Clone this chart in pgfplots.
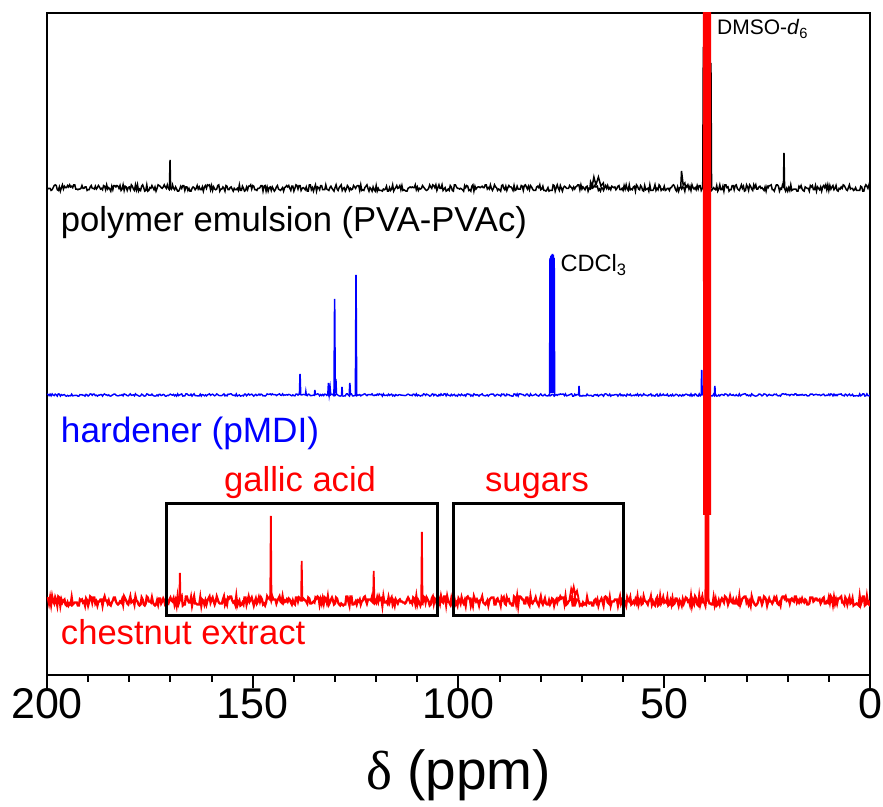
\documentclass[border=0pt]{standalone}
\usepackage{fontspec}
\setmainfont{Liberation Sans}
\newfontfamily\greekserif{Liberation Serif}
\usepackage{pgfplots}
\usepackage{pgfplotstable}
\pgfplotsset{compat=1.18}

% baseline noise read as digits 0-9: x (ppm), b = black trace, r = red trace
\pgfplotstableread{
x b r
200 1 8
199.75 4 7
199.5 4 2
199.25 4 8
199 1 1
198.75 2 9
198.5 5 4
198.25 8 2
198 9 8
197.75 8 5
197.5 2 0
197.25 1 9
197 6 8
196.75 0 0
196.5 5 6
196.25 9 3
196 3 5
195.75 7 6
195.5 5 1
195.25 5 0
195 8 3
194.75 6 0
194.5 9 2
194.25 6 1
194 7 8
193.75 5 1
193.5 9 2
193.25 9 3
193 3 3
192.75 3 3
192.5 2 0
192.25 3 0
192 3 6
191.75 4 5
191.5 8 6
191.25 4 3
191 4 4
190.75 6 0
190.5 6 7
190.25 1 5
190 2 0
189.75 2 4
189.5 6 9
189.25 8 8
189 4 3
188.75 4 8
188.5 3 8
188.25 7 2
188 3 4
187.75 5 0
187.5 8 4
187.25 6 4
187 3 6
186.75 4 6
186.5 2 0
186.25 8 6
186 7 9
185.75 2 5
185.5 9 5
185.25 3 2
185 5 5
184.75 3 1
184.5 0 0
184.25 7 3
184 2 5
183.75 8 8
183.5 8 8
183.25 6 4
183 8 2
182.75 7 1
182.5 4 2
182.25 8 4
182 1 3
181.75 3 6
181.5 9 1
181.25 1 9
181 7 7
180.75 6 5
180.5 1 2
180.25 5 1
180 6 5
179.75 2 9
179.5 9 3
179.25 7 4
179 3 5
178.75 1 1
178.5 9 9
178.25 2 5
178 9 4
177.75 0 1
177.5 3 0
177.25 1 1
177 7 8
176.75 9 6
176.5 5 1
176.25 0 0
176 1 2
175.75 9 9
175.5 0 8
175.25 1 4
175 5 4
174.75 4 3
174.5 8 8
174.25 5 3
174 2 1
173.75 6 0
173.5 0 1
173.25 4 5
173 9 1
172.75 8 7
172.5 7 7
172.25 5 2
172 4 4
171.75 6 7
171.5 9 5
171.25 6 0
171 4 0
170.75 9 3
170.5 4 2
170.25 2 6
170 5 8
169.75 3 5
169.5 9 4
169.25 4 7
169 2 1
168.75 6 5
168.5 3 0
168.25 0 9
168 0 2
167.75 3 5
167.5 7 7
167.25 4 9
167 8 0
166.75 8 1
166.5 1 1
166.25 6 9
166 6 9
165.75 1 5
165.5 4 3
165.25 0 3
165 0 8
164.75 4 0
164.5 6 5
164.25 5 9
164 2 2
163.75 4 2
163.5 8 1
163.25 3 1
163 6 1
162.75 2 8
162.5 2 0
162.25 6 6
162 0 5
161.75 6 1
161.5 8 5
161.25 4 1
161 9 5
160.75 8 7
160.5 9 9
160.25 2 3
160 8 6
159.75 1 8
159.5 6 4
159.25 3 1
159 2 4
158.75 3 9
158.5 8 6
158.25 9 3
158 0 2
157.75 3 2
157.5 3 2
157.25 6 6
157 4 9
156.75 0 1
156.5 8 4
156.25 7 1
156 2 8
155.75 2 7
155.5 5 9
155.25 6 9
155 3 5
154.75 0 3
154.5 4 4
154.25 2 1
154 2 9
153.75 4 0
153.5 1 3
153.25 9 5
153 1 0
152.75 1 1
152.5 7 3
152.25 4 1
152 0 8
151.75 1 8
151.5 6 1
151.25 2 5
151 7 9
150.75 7 4
150.5 9 6
150.25 3 8
150 8 4
149.75 7 0
149.5 2 4
149.25 2 7
149 1 2
148.75 4 4
148.5 4 8
148.25 5 4
148 8 8
147.75 8 6
147.5 0 1
147.25 7 2
147 8 0
146.75 0 3
146.5 6 9
146.25 0 7
146 5 7
145.75 6 9
145.5 1 5
145.25 6 9
145 3 6
144.75 0 6
144.5 2 6
144.25 6 2
144 8 5
143.75 3 7
143.5 2 9
143.25 1 4
143 3 3
142.75 5 9
142.5 0 3
142.25 5 5
142 6 4
141.75 8 6
141.5 6 4
141.25 8 7
141 4 6
140.75 1 3
140.5 7 1
140.25 7 5
140 0 2
139.75 4 1
139.5 9 8
139.25 8 8
139 3 4
138.75 8 8
138.5 8 7
138.25 1 5
138 4 5
137.75 5 7
137.5 4 6
137.25 2 5
137 6 4
136.75 0 2
136.5 0 8
136.25 9 7
136 9 2
135.75 2 2
135.5 5 3
135.25 0 4
135 5 3
134.75 9 8
134.5 0 7
134.25 6 9
134 5 8
133.75 2 1
133.5 8 6
133.25 8 2
133 2 7
132.75 2 2
132.5 2 8
132.25 9 7
132 3 3
131.75 2 9
131.5 1 1
131.25 5 3
131 7 6
130.75 4 8
130.5 2 5
130.25 0 1
130 5 2
129.75 9 8
129.5 3 7
129.25 1 3
129 5 1
128.75 7 0
128.5 9 2
128.25 1 1
128 4 0
127.75 5 1
127.5 0 1
127.25 3 9
127 8 9
126.75 6 4
126.5 1 0
126.25 4 9
126 2 9
125.75 3 1
125.5 8 1
125.25 6 2
125 4 4
124.75 7 1
124.5 8 5
124.25 8 4
124 1 6
123.75 9 1
123.5 1 4
123.25 2 5
123 1 8
122.75 5 9
122.5 7 5
122.25 9 2
122 4 6
121.75 0 6
121.5 5 6
121.25 3 5
121 0 9
120.75 6 3
120.5 2 2
120.25 0 5
120 8 3
119.75 0 8
119.5 4 4
119.25 1 9
119 1 6
118.75 1 7
118.5 0 0
118.25 3 9
118 2 3
117.75 3 3
117.5 7 4
117.25 0 2
117 0 8
116.75 5 3
116.5 1 6
116.25 3 8
116 9 1
115.75 0 4
115.5 3 0
115.25 5 6
115 8 4
114.75 4 2
114.5 5 5
114.25 8 6
114 2 4
113.75 8 4
113.5 1 3
113.25 2 3
113 1 2
112.75 0 3
112.5 0 6
112.25 4 8
112 5 6
111.75 6 3
111.5 5 4
111.25 6 2
111 5 8
110.75 5 7
110.5 9 2
110.25 2 9
110 6 1
109.75 1 5
109.5 4 3
109.25 3 0
109 4 3
108.75 8 2
108.5 6 9
108.25 4 8
108 2 3
107.75 1 8
107.5 2 6
107.25 4 4
107 9 0
106.75 6 1
106.5 4 7
106.25 9 9
106 8 2
105.75 5 7
105.5 9 6
105.25 1 1
105 5 0
104.75 9 6
104.5 4 2
104.25 4 9
104 9 4
103.75 1 3
103.5 3 9
103.25 5 9
103 0 1
102.75 1 9
102.5 3 4
102.25 1 3
102 8 1
101.75 6 7
101.5 1 2
101.25 0 5
101 9 7
100.75 9 1
100.5 6 3
100.25 4 0
100 4 7
99.75 3 5
99.5 4 2
99.25 3 8
99 2 4
98.75 0 2
98.5 8 5
98.25 5 0
98 8 8
97.75 7 9
97.5 1 7
97.25 2 7
97 0 0
96.75 7 4
96.5 9 0
96.25 0 9
96 7 6
95.75 3 4
95.5 5 6
95.25 6 4
95 6 0
94.75 5 5
94.5 6 6
94.25 7 9
94 5 3
93.75 5 2
93.5 9 1
93.25 9 3
93 3 5
92.75 5 0
92.5 3 5
92.25 9 7
92 4 8
91.75 1 8
91.5 4 8
91.25 9 1
91 6 1
90.75 5 6
90.5 1 7
90.25 3 4
90 2 4
89.75 0 0
89.5 8 8
89.25 9 6
89 4 8
88.75 2 2
88.5 7 1
88.25 1 8
88 5 5
87.75 8 6
87.5 6 2
87.25 6 2
87 4 0
86.75 1 0
86.5 8 9
86.25 1 8
86 2 2
85.75 7 9
85.5 3 0
85.25 3 9
85 3 9
84.75 8 8
84.5 7 6
84.25 1 6
84 8 2
83.75 9 2
83.5 6 8
83.25 3 8
83 7 2
82.75 2 0
82.5 8 9
82.25 6 3
82 3 2
81.75 1 4
81.5 1 5
81.25 1 8
81 6 4
80.75 7 2
80.5 5 0
80.25 9 5
80 2 9
79.75 3 3
79.5 7 1
79.25 1 4
79 1 7
78.75 0 2
78.5 2 1
78.25 5 1
78 0 5
77.75 1 1
77.5 1 3
77.25 1 7
77 9 6
76.75 8 0
76.5 0 4
76.25 5 6
76 9 3
75.75 4 7
75.5 1 6
75.25 8 9
75 4 7
74.75 0 8
74.5 5 8
74.25 7 2
74 6 9
73.75 4 1
73.5 4 2
73.25 4 4
73 8 5
72.75 6 8
72.5 5 9
72.25 2 0
72 6 0
71.75 3 8
71.5 6 3
71.25 7 6
71 9 6
70.75 9 5
70.5 2 0
70.25 9 1
70 3 0
69.75 6 3
69.5 4 1
69.25 2 2
69 6 1
68.75 7 8
68.5 0 3
68.25 4 2
68 3 3
67.75 9 3
67.5 4 0
67.25 5 0
67 8 5
66.75 6 6
66.5 6 3
66.25 7 6
66 1 0
65.75 3 4
65.5 0 5
65.25 5 7
65 4 4
64.75 1 0
64.5 5 8
64.25 8 9
64 4 8
63.75 8 3
63.5 3 2
63.25 5 8
63 2 0
62.75 7 4
62.5 6 4
62.25 5 4
62 6 6
61.75 2 6
61.5 4 6
61.25 7 0
61 8 5
60.75 2 9
60.5 2 2
60.25 4 5
60 1 1
59.75 8 5
59.5 3 3
59.25 9 0
59 3 8
58.75 1 5
58.5 9 4
58.25 2 8
58 3 1
57.75 2 2
57.5 6 4
57.25 7 2
57 0 6
56.75 9 3
56.5 7 9
56.25 3 1
56 2 5
55.75 8 7
55.5 6 1
55.25 1 2
55 0 9
54.75 8 5
54.5 2 4
54.25 3 3
54 4 1
53.75 0 5
53.5 9 5
53.25 1 9
53 1 1
52.75 1 4
52.5 4 1
52.25 9 0
52 1 6
51.75 4 8
51.5 2 0
51.25 9 1
51 7 9
50.75 1 2
50.5 3 4
50.25 2 8
50 7 3
49.75 1 4
49.5 2 3
49.25 4 8
49 4 0
48.75 1 1
48.5 5 5
48.25 5 1
48 8 7
47.75 9 1
47.5 7 2
47.25 2 7
47 0 7
46.75 6 4
46.5 0 0
46.25 5 5
46 6 3
45.75 3 0
45.5 6 6
45.25 5 2
45 0 5
44.75 8 8
44.5 6 7
44.25 9 4
44 3 5
43.75 7 1
43.5 1 9
43.25 9 0
43 5 5
42.75 3 2
42.5 5 9
42.25 2 7
42 8 1
41.75 3 0
41.5 8 9
41.25 8 1
41 1 5
40.75 4 9
40.5 7 3
40.25 6 3
40 4 0
39.75 2 8
39.5 8 9
39.25 6 5
39 8 2
38.75 4 2
38.5 1 1
38.25 3 1
38 5 8
37.75 3 1
37.5 2 6
37.25 8 0
37 0 1
36.75 3 5
36.5 9 1
36.25 2 5
36 2 7
35.75 7 5
35.5 0 3
35.25 9 9
35 9 8
34.75 5 6
34.5 6 1
34.25 0 4
34 2 9
33.75 2 4
33.5 8 3
33.25 8 6
33 2 2
32.75 8 2
32.5 9 6
32.25 4 2
32 2 1
31.75 1 9
31.5 5 1
31.25 9 4
31 4 7
30.75 7 8
30.5 0 9
30.25 1 9
30 9 3
29.75 6 5
29.5 1 1
29.25 9 4
29 7 0
28.75 3 9
28.5 1 5
28.25 9 3
28 5 1
27.75 9 0
27.5 3 1
27.25 3 3
27 6 8
26.75 7 8
26.5 4 5
26.25 5 1
26 3 4
25.75 1 9
25.5 6 8
25.25 0 6
25 7 0
24.75 5 4
24.5 8 7
24.25 8 4
24 9 4
23.75 2 2
23.5 2 4
23.25 0 8
23 5 6
22.75 9 8
22.5 9 2
22.25 7 1
22 0 3
21.75 4 0
21.5 3 7
21.25 9 9
21 6 9
20.75 4 7
20.5 0 9
20.25 4 5
20 0 6
19.75 5 6
19.5 1 2
19.25 9 6
19 1 7
18.75 2 5
18.5 3 4
18.25 3 9
18 3 9
17.75 0 3
17.5 0 5
17.25 7 3
17 5 6
16.75 8 4
16.5 3 7
16.25 1 4
16 0 3
15.75 6 6
15.5 5 5
15.25 4 1
15 4 1
14.75 0 2
14.5 8 8
14.25 6 8
14 8 8
13.75 2 4
13.5 2 5
13.25 8 7
13 0 7
12.75 6 5
12.5 4 5
12.25 2 6
12 6 2
11.75 0 4
11.5 6 7
11.25 8 8
11 5 2
10.75 9 2
10.5 2 4
10.25 9 3
10 1 8
9.75 8 3
9.5 3 9
9.25 6 7
9 8 1
8.75 2 8
8.5 4 2
8.25 8 6
8 1 2
7.75 0 7
7.5 4 7
7.25 3 8
7 6 9
6.75 4 3
6.5 9 3
6.25 8 1
6 5 8
5.75 2 6
5.5 1 1
5.25 5 5
5 9 8
4.75 3 2
4.5 4 3
4.25 4 7
4 1 0
3.75 2 1
3.5 5 1
3.25 1 2
3 1 1
2.75 1 0
2.5 1 9
2.25 7 1
2 6 4
1.75 0 9
1.5 0 9
1.25 6 0
1 9 1
0.75 7 9
0.5 4 2
0.25 9 1
0 3 5
}\noise

\begin{document}
\begin{tikzpicture}
\begin{axis}[
  name=ax,
  scale only axis,
  width=411.5pt, height=331pt,
  xmin=0, xmax=200, ymin=0, ymax=662,
  x dir=reverse,
  xtick={0,50,100,150,200},
  minor x tick num=4,
  ytick=\empty,
  xtick pos=bottom,
  tick align=outside,
  major tick length=6.5pt,
  minor tick length=3.5pt,
  every tick/.style={black, line width=1pt},
  axis line style={line width=1pt},
  /pgf/number format/assume math mode=true,
  ticklabel style={font=\fontsize{21.5}{26}\selectfont},
  xticklabel style={anchor=north, inner sep=0pt},
  xlabel={{\greekserif δ} (ppm)},
  x label style={at={(axis description cs:0.5,0)}, anchor=base, yshift=-57.5pt,
     font=\fontsize{27.5}{32}\selectfont, inner sep=0pt},
  unbounded coords=jump,
]
% black: polymer emulsion
\addplot[black, line width=0.75pt] table[x=x, y expr={487+0.7*(\thisrow{b}-4.5)}] {\noise};
\addplot[black, line width=0.75pt] coordinates {
(170.25,487) (170.1,515) (169.95,487) (nan,nan)
(68.05,487) (67.9,493) (67.5,489) (67.1,498) (66.6,490) (66.0,498) (65.4,489) (64.8,492) (64.6,487) (nan,nan)
(46.0,487) (45.8,504) (45.4,490) (45.0,492) (44.8,487) (nan,nan)
(40.65,487) (40.5,628) (40.35,487) (nan,nan)
(38.8,487) (38.65,612) (38.5,487) (nan,nan)
(21.05,487) (20.9,522) (20.75,487)
};
% blue: hardener
\addplot[blue, line width=0.7pt] table[x=x, y expr={280+0.25*(\thisrow{r}-4.5)}] {\noise};
\addplot[blue, line width=0.8pt] coordinates {
(138.65,280) (138.5,301) (138.35,280) (nan,nan)
(137.2,280) (137.1,283) (137.0,280) (nan,nan)
(135.0,280) (134.9,285) (134.8,280) (nan,nan)
(131.75,280) (131.6,292) (131.4,281) (131.2,287) (131.05,280) (nan,nan)
(130.25,280) (130.1,376) (129.95,282) (129.8,296) (129.65,280) (nan,nan)
(128.4,280) (128.3,288) (128.2,280) (nan,nan)
(126.55,280) (126.4,292) (126.25,280) (nan,nan)
(125.05,280) (124.9,400) (124.75,280) (nan,nan)
(77.85,280) (77.75,417) (77.65,282) (77.55,419) (77.45,282) (77.35,420) (77.25,282) (77.15,421) (77.05,282) (76.95,420) (76.85,282) (76.75,417) (76.65,280) (nan,nan)
(70.8,280) (70.7,289) (70.6,280) (nan,nan)
(41.0,280) (40.9,305) (40.8,280) (nan,nan)
(37.8,280) (37.7,289) (37.6,280)
};
% red: chestnut extract
\addplot[red, line width=1.15pt] table[x=x, y expr={74+1.0*(\thisrow{r}-4.5)}] {\noise};
\addplot[red, line width=0.9pt] coordinates {
(167.85,74) (167.7,102) (167.55,74) (nan,nan)
(145.75,74) (145.6,159) (145.45,74) (nan,nan)
(138.25,74) (138.1,114) (137.95,74) (nan,nan)
(120.75,74) (120.6,104) (120.45,74) (nan,nan)
(109.05,74) (108.9,143) (108.75,74) (nan,nan)
(73.0,76) (72.6,86) (72.3,82) (72.0,88) (71.6,80) (71.2,84) (70.8,76) (nan,nan)
(40.0,74) (39.95,1000) (40.4,1000) (40.35,160) (40.3,1000) (40.25,160) (40.2,1000) (40.15,160) (40.1,1000) (40.05,160) (39.95,1000) (39.85,74) (39.75,1000) (39.65,74) (39.55,1000) (39.45,74) (39.35,1000) (39.25,74) (39.2,1000) (39.1,160) (39.0,1000) (38.95,160) (38.9,1000) (38.85,160) (38.8,1000)
};
% boxes
\draw[black, line width=1.5pt] (axis cs:170.9,171) rectangle (axis cs:105.1,59);
\draw[black, line width=1.5pt] (axis cs:101.3,171) rectangle (axis cs:59.95,59);
% labels
\node[anchor=base west, inner sep=0pt, font=\fontsize{17.3}{20}\selectfont, text=black] at (axis cs:196.7,443) {polymer emulsion (PVA-PVAc)};
\node[anchor=base west, inner sep=0pt, font=\fontsize{17.6}{20}\selectfont, text=blue] at (axis cs:196.7,232) {hardener (pMDI)};
\node[anchor=base west, inner sep=0pt, font=\fontsize{17.3}{20}\selectfont, text=red] at (axis cs:196.7,30) {chestnut extract};
\node[anchor=base, inner sep=0pt, font=\fontsize{17.3}{20}\selectfont, text=red] at (axis cs:138.5,183) {gallic acid};
\node[anchor=base, inner sep=0pt, font=\fontsize{17.3}{20}\selectfont, text=red] at (axis cs:80.9,183) {sugars};
\node[anchor=base west, inner sep=0pt, font=\fontsize{11.8}{13}\selectfont] at (axis cs:75.3,403) {CDCl\textsubscript{3}};
\node[anchor=base west, inner sep=0pt, font=\fontsize{10.5}{12}\selectfont] at (axis cs:37.25,640) {DMSO-\textit{d}\textsubscript{6}};
\end{axis}
\pgfresetboundingbox
\path[use as bounding box] (ax.south west) ++(-23.5pt,-66pt) rectangle ++(441.5pt,403.5pt);
\end{tikzpicture}
\end{document}
